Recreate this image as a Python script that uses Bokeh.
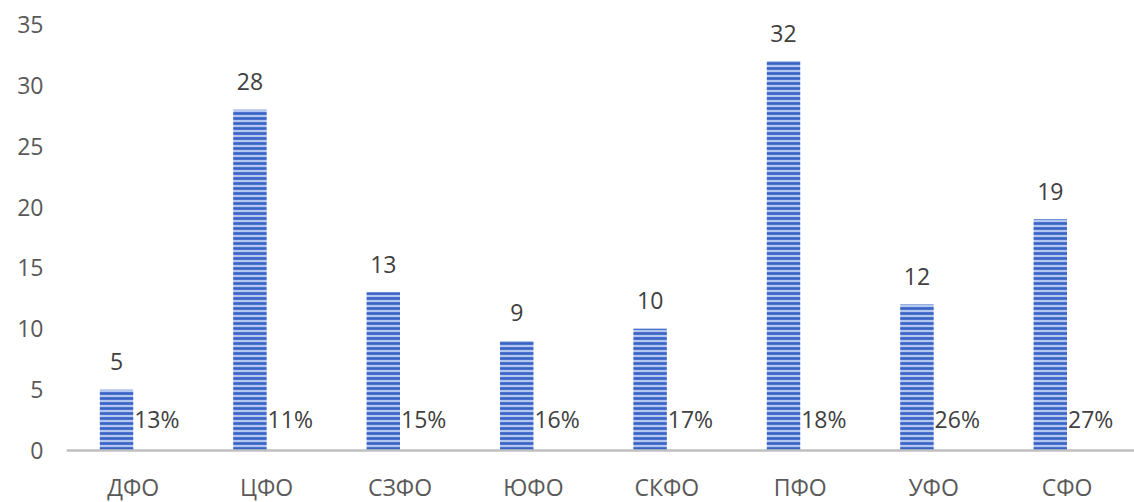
from bokeh.plotting import figure
from bokeh.models import Range1d, FixedTicker, ColumnDataSource, Span
from bokeh.core.properties import value
from bokeh.embed import file_html
from bokeh.resources import INLINE

categories = ["ДФО", "ЦФО", "СЗФО", "ЮФО", "СКФО", "ПФО", "УФО", "СФО"]
counts = [5, 28, 13, 9, 10, 32, 12, 19]
shares = [13, 11, 15, 16, 17, 18, 26, 27]
y_ticks = [0, 5, 10, 15, 20, 25, 30, 35]

FONT = "Open Sans"
PX_PER_UNIT = 426 / 35.0
centers = [i + 0.5 for i in range(len(categories))]
src = ColumnDataSource(dict(
    center=centers,
    bar_x=[c - 0.125 for c in centers],
    count=counts,
    count_lbl=[str(v) for v in counts],
    share_lbl=[f"{s}%" for s in shares],
    share_y=[2.6] * len(shares),
    cat=categories,
    cat_y=[-36 / PX_PER_UNIT] * len(categories),
))

p = figure(width=1134, height=502, output_backend="svg", toolbar_location=None,
           x_range=Range1d(0, 1068 / 133.4), y_range=Range1d(-52 / PX_PER_UNIT, 35),
           x_axis_location=None,
           min_border_left=66, min_border_right=0, min_border_top=24, min_border_bottom=0)
p.outline_line_color = None
p.grid.visible = False
p.background_fill_color = "white"

p.vbar(x="bar_x", top="count", width=0.25, bottom=0, source=src,
       fill_color="#B3C7F0", line_color=None,
       hatch_pattern="horizontal_line", hatch_color="#3A63C4",
       hatch_weight=2.7, hatch_scale=5)

# category axis line
p.add_layout(Span(location=0, dimension="width", line_color="#BFBFBF", line_width=2.5))

p.text(x="bar_x", y="count", text="count_lbl", source=src, text_align="center",
       text_baseline="middle", y_offset=-28, text_font=value(FONT),
       text_font_size="23px", text_color="#404040")
p.text(x="center", y="share_y", text="share_lbl", source=src, text_align="left",
       text_baseline="middle", x_offset=1, text_font=value(FONT),
       text_font_size="23px", text_color="#404040")
p.text(x="center", y="cat_y", text="cat", source=src, text_align="center",
       text_baseline="middle", text_font=value(FONT),
       text_font_size="23px", text_color="#595959")

ya = p.yaxis[0]
ya.ticker = FixedTicker(ticks=y_ticks)
ya.axis_line_color = None
ya.major_tick_line_color = None
ya.minor_tick_line_color = None
ya.major_tick_out = 0
ya.major_tick_in = 0
ya.major_label_standoff = 23
ya.major_label_text_font = FONT
ya.major_label_text_font_size = "23px"
ya.major_label_text_color = "#595959"

open("out.html", "w").write(file_html(p, INLINE))
